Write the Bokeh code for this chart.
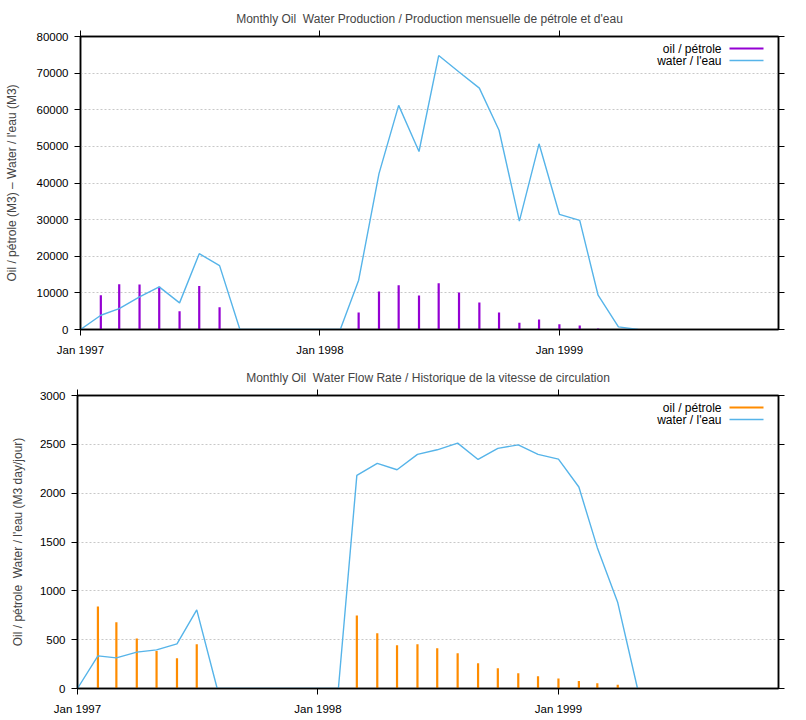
import calendar
from datetime import datetime
from bokeh.plotting import figure
from bokeh.models import (Range1d, FixedTicker, DatetimeAxis, LinearAxis,
                          DatetimeTickFormatter, CustomJSTickFormatter, Label, Arrow,
                          ColumnDataSource)
from bokeh.embed import file_html
from bokeh.resources import INLINE

FONT = "Liberation Sans"

# ---------------- data ----------------
# top chart: monthly production (M3)
prod_oil_months = ["1997-02", "1997-03", "1997-04", "1997-05", "1997-06", "1997-07", "1997-08",
                   "1998-03", "1998-04", "1998-05", "1998-06", "1998-07", "1998-08", "1998-09",
                   "1998-10", "1998-11", "1998-12", "1999-01", "1999-02", "1999-03"]
prod_oil = [9360, 12360, 12270, 11640, 5000, 11900, 6100,
            4640, 10360, 12090, 9270, 12640, 10090, 7360,
            4640, 1820, 2730, 1450, 1090, 270]

water_months = ["1997-01", "1997-02", "1997-03", "1997-04", "1997-05", "1997-06", "1997-07",
                "1997-08", "1997-09", "1997-10", "1997-11", "1997-12", "1998-01", "1998-02",
                "1998-03", "1998-04", "1998-05", "1998-06", "1998-07", "1998-08", "1998-09",
                "1998-10", "1998-11", "1998-12", "1999-01", "1999-02", "1999-03", "1999-04",
                "1999-05"]
prod_water = [0, 3900, 5700, 8900, 11640, 7270, 20700,
              17450, 0, 0, 0, 0, 0, 0,
              13450, 42550, 61200, 48600, 74800, 70300, 65900,
              54400, 29600, 50700, 31450, 29800, 9360, 730,
              0]

# bottom chart: flow rate (M3 day/jour)
rate_oil_months = ["1997-02", "1997-03", "1997-04", "1997-05", "1997-06", "1997-07",
                   "1998-03", "1998-04", "1998-05", "1998-06", "1998-07", "1998-08", "1998-09",
                   "1998-10", "1998-11", "1998-12", "1999-01", "1999-02", "1999-03", "1999-04"]
rate_oil = [839, 678, 511, 385, 310, 453,
            747, 566, 443, 453, 412, 361, 259,
            208, 157, 126, 102, 78, 55, 38]

rate_water = [0, 334, 314, 372, 395, 457, 805,
              0, 0, 0, 0, 0, 0, 0,
              2182, 2305, 2240, 2397, 2444, 2512, 2345,
              2458, 2495, 2397, 2349, 2063, 1442, 880,
              0]

year_ticks = ["1997-01", "1998-01", "1999-01"]
x_start, x_end = "1997-01", "1999-12"

titles = ["Monthly Oil \u00a0Water Production / Production mensuelle de pétrole et d'eau",
          "Monthly Oil \u00a0Water Flow Rate / Historique de la vitesse de circulation"]
ylabels = ["Oil / pétrole (M3) – Water / l'eau (M3)",
           "Oil / pétrole \u00a0Water / l'eau (M3 day/jour)"]
legend_labels = ["oil / pétrole", "water / l'eau"]

OIL_TOP = "#9400d3"
OIL_BOT = "#ff8c00"
WATER = "#56b4e9"


def to_dt(s):
    y, m = s.split("-")
    return datetime(int(y), int(m), 1)


def to_ms(s):
    y, m = s.split("-")
    return calendar.timegm((int(y), int(m), 1, 0, 0, 0)) * 1000


def make_fig(title, ylabel, oil_m, oil_v, w_m, w_v, oil_color, ymax, ystep,
             height, left_b, top_b, bottom_b, label_standoff, tick_standoff):
    p = figure(width=800, height=height, output_backend="svg", toolbar_location=None,
               x_axis_type="datetime",
               x_range=Range1d(to_dt(x_start), to_dt(x_end)),
               y_range=Range1d(0, ymax),
               min_border_left=left_b, min_border_right=800 - 778,
               min_border_top=top_b, min_border_bottom=bottom_b)
    p.title.text = title
    p.title.align = "center"
    p.title.text_font = FONT
    p.title.text_font_size = "12px"
    p.title.text_font_style = "normal"
    p.title.standoff = 9

    p.outline_line_color = "black"
    p.outline_line_width = 1.5
    p.outline_line_alpha = 1

    xt = FixedTicker(ticks=[to_ms(t) for t in year_ticks])
    yt = FixedTicker(ticks=list(range(0, ymax + 1, ystep)))

    xa = p.xaxis[0]
    xa.ticker = xt
    xa.formatter = DatetimeTickFormatter(days="%b %Y", months="%b %Y", years="%b %Y",
                                         hours="%b %Y", minutes="%b %Y")
    ya = p.yaxis[0]
    ya.ticker = yt
    ya.axis_label = ylabel
    ya.axis_label_standoff = label_standoff

    for ax in (xa, ya):
        ax.major_label_text_font = FONT
        ax.major_label_text_font_size = "11.5px"
        ax.major_label_text_color = "black"
        ax.axis_label_text_font = FONT
        ax.axis_label_text_font_size = "12px"
        ax.axis_label_text_font_style = "normal"
        ax.major_tick_out = 6
        ax.major_tick_in = 0
        ax.minor_tick_line_color = None
        ax.axis_line_width = 1.5
        ax.axis_line_color = "black"
        ax.major_tick_line_color = "black"
    ya.major_label_standoff = tick_standoff
    xa.major_label_standoff = 8

    empty = CustomJSTickFormatter(code="return '';")
    top_ax = DatetimeAxis(ticker=xt, formatter=empty, major_tick_out=6, major_tick_in=0,
                          minor_tick_line_color=None, major_label_standoff=0,
                          major_label_text_font_size="0px", axis_line_width=1.5)
    right_ax = LinearAxis(ticker=yt, formatter=empty, major_tick_out=6, major_tick_in=0,
                          minor_tick_line_color=None, major_label_standoff=0,
                          major_label_text_font_size="0px", axis_line_width=1.5)
    p.add_layout(top_ax, "above")
    p.add_layout(right_ax, "right")

    p.xgrid.visible = False
    p.ygrid.ticker = yt
    p.ygrid.grid_line_color = "#c8c8c8"
    p.ygrid.grid_line_dash = "2 2"
    p.ygrid.grid_line_width = 1

    src_oil = ColumnDataSource(dict(x=[to_dt(m) for m in oil_m], v=oil_v))
    src_w = ColumnDataSource(dict(x=[to_dt(m) for m in w_m], v=w_v))
    p.segment(x0="x", y0=0, x1="x", y1="v", source=src_oil,
              line_color=oil_color, line_width=2.2)
    p.line(x="x", y="v", source=src_w, line_color=WATER, line_width=1.4)

    # gnuplot-style key: text right-aligned, sample line to its right
    frame_w = 778 - left_b
    frame_h = height - top_b - bottom_b
    for i, (lab, col) in enumerate(zip(legend_labels, [oil_color, WATER])):
        yy = frame_h - 12 - 12 * i
        p.add_layout(Label(x=frame_w - 57, y=yy, x_units="screen", y_units="screen",
                           text=lab, text_align="right", text_baseline="middle",
                           text_font=FONT, text_font_size="12px", text_color="black"))
        p.add_layout(Arrow(x_start=frame_w - 49, y_start=yy, x_end=frame_w - 15, y_end=yy,
                           start_units="screen", end_units="screen", end=None,
                           line_color=col, line_width=2 if i == 0 else 1.4))
    return p


p1 = make_fig(titles[0], ylabels[0], prod_oil_months, prod_oil, water_months, prod_water,
              OIL_TOP, 80000, 10000, 359, 80, 36, 30, 15, 6)
p2 = make_fig(titles[1], ylabels[1], rate_oil_months, rate_oil, water_months, rate_water,
              OIL_BOT, 3000, 500, 359, 77, 36, 30, 12, 6)

open("out.html", "w").write(file_html([p1, p2], INLINE))
